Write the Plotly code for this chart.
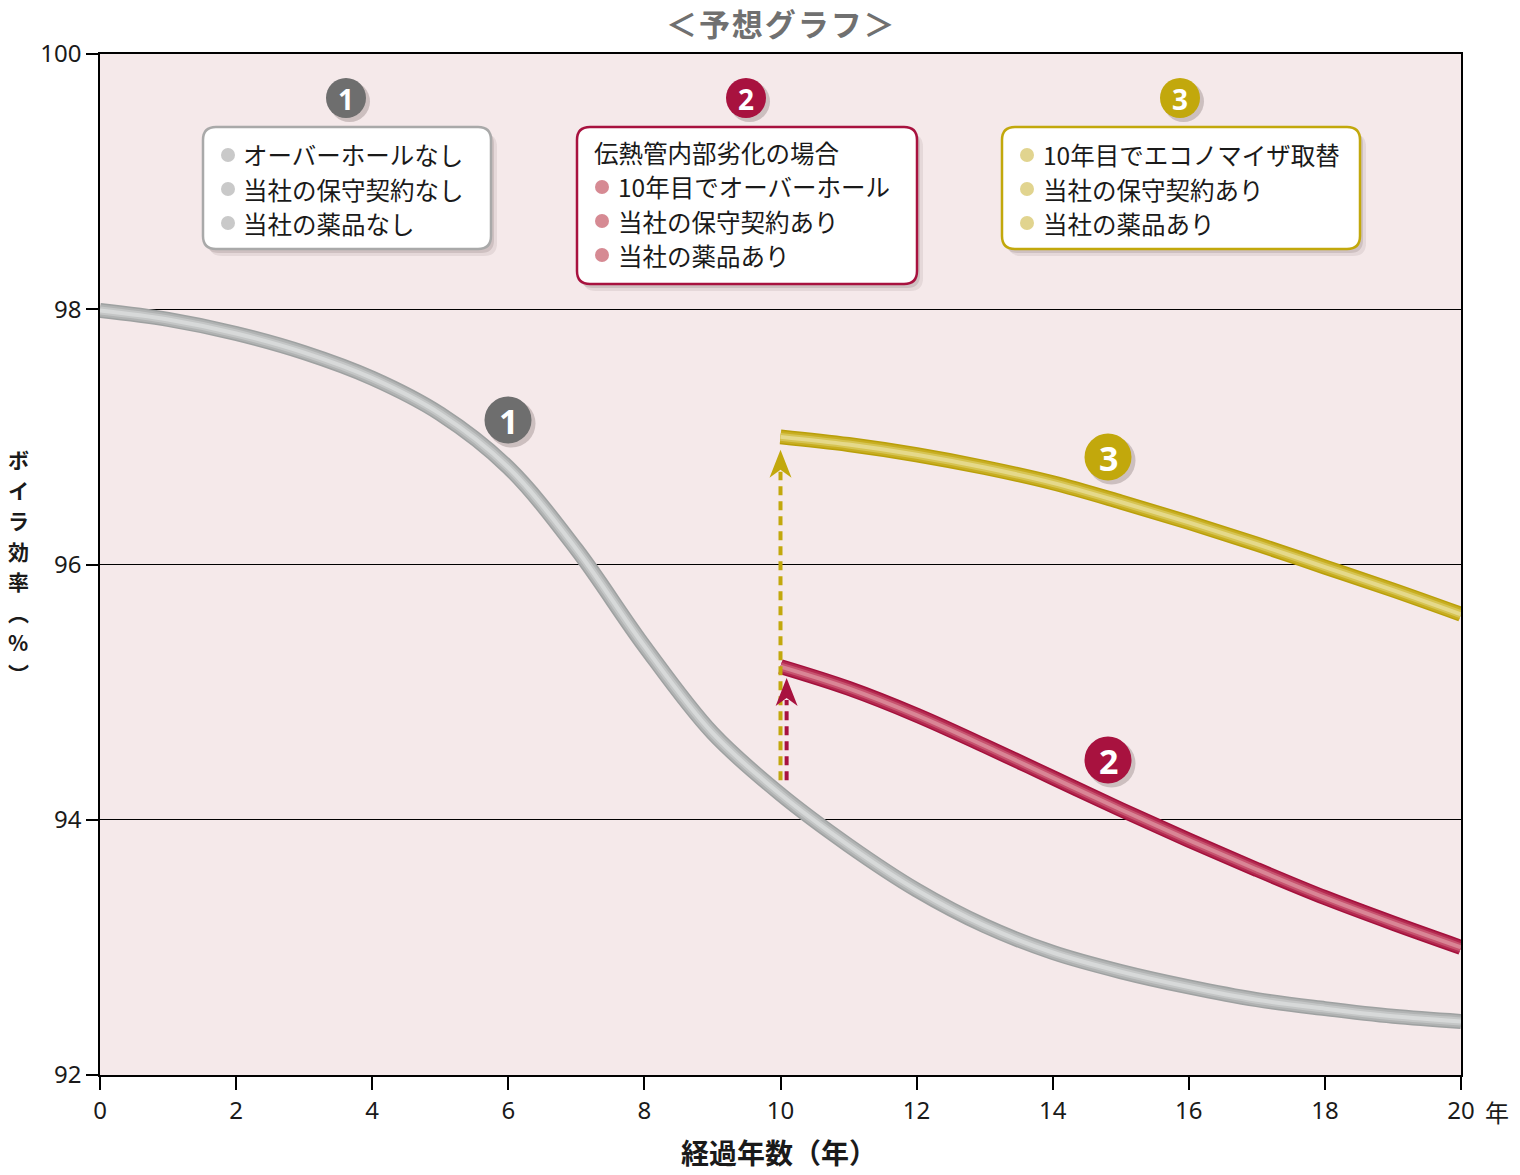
import plotly.graph_objects as go

# ---------------- data ----------------
years_gray = [0, 1, 2, 3, 4, 5, 6, 7, 8, 9, 10, 11, 12, 13, 14, 15, 16, 17, 18, 19, 20]
eff_gray = [97.99, 97.92, 97.81, 97.66, 97.46, 97.18, 96.76, 96.12, 95.36, 94.68, 94.20,
            93.80, 93.45, 93.17, 92.96, 92.81, 92.69, 92.59, 92.52, 92.46, 92.42]

years_after = [10, 11, 12, 13, 14, 15, 16, 17, 18, 19, 20]
eff_red = [95.20, 95.03, 94.82, 94.58, 94.33, 94.08, 93.84, 93.61, 93.39, 93.19, 93.00]
eff_yellow = [97.00, 96.94, 96.86, 96.76, 96.64, 96.49, 96.33, 96.16, 95.98, 95.80, 95.61]

x_ticks = [0, 2, 4, 6, 8, 10, 12, 14, 16, 18, 20]
x_ticktext = ["0", "2", "4", "6", "8", "10", "12", "14", "16", "18", "20"]
y_ticks = [92, 94, 96, 98, 100]
y_ticktext = ["92", "94", "96", "98", "100"]

# arrows: (x, start y, tip y)
arrow_yellow = (10.0, 94.31, 96.90)
arrow_red = (10.09, 94.31, 95.11)

legend1 = ["オーバーホールなし", "当社の保守契約なし", "当社の薬品なし"]
legend2_head = "伝熱管内部劣化の場合"
legend2 = ["10年目でオーバーホール", "当社の保守契約あり", "当社の薬品あり"]
legend3 = ["10年目でエコノマイザ取替", "当社の保守契約あり", "当社の薬品あり"]
ytitle_chars = ["ボ", "イ", "ラ", "効", "率", "︵", "%", "︶"]

# ---------------- geometry helpers (pixels -> paper) ----------------
W, H = 1520, 1175
L, R, T, B = 100, 1461, 54, 1075
PW, PH = R - L, B - T

def fx(px):
    return (px - L) / PW

def fy(py):
    return (B - py) / PH

def dy(py):
    return 100 - (py - T) / PH * 8

def rounded_rect(x0, y0, x1, y1, r):
    X0, X1 = fx(x0), fx(x1)
    Y0, Y1 = fy(y0), fy(y1)  # Y0 top
    rx, ry = r / PW, r / PH
    return (f"M{X0+rx},{Y0} L{X1-rx},{Y0} Q{X1},{Y0} {X1},{Y0-ry} "
            f"L{X1},{Y1+ry} Q{X1},{Y1} {X1-rx},{Y1} "
            f"L{X0+rx},{Y1} Q{X0},{Y1} {X0},{Y1+ry} "
            f"L{X0},{Y0-ry} Q{X0},{Y0} {X0+rx},{Y0} Z")

GRAY = "#6e6e6e"
RED = "#a8123f"
YEL = "#c2a80c"
FONT = "Noto Sans CJK JP"

fig = go.Figure()

def tube(x, y, colors):
    for col, w in zip(colors, [15, 12, 8, 4]):
        fig.add_trace(go.Scatter(x=x, y=y, mode="lines",
                                 line=dict(color=col, width=w, shape="spline", smoothing=1.0),
                                 hoverinfo="skip", showlegend=False))

tube(years_gray, eff_gray, ["#9ea1a1", "#b1b3b3", "#c4c6c6", "#d7d9d9"])
tube(years_after, eff_red, ["#a3113c", "#b42a51", "#c7536f", "#d98595"])
tube(years_after, eff_yellow, ["#b99f0a", "#c8ae22", "#d6c452", "#e5d98a"])

shapes = []
annotations = []

# ---------- arrows ----------
for (ax_, y0, tip), col in [(arrow_yellow, YEL), (arrow_red, RED)]:
    head_len_px, head_w_px, notch_px = 28, 22, 8
    tip_py = T + (100 - tip) / 8 * PH
    base_y = dy(tip_py + head_len_px - notch_px + 2)
    shapes.append(dict(type="line", xref="x", yref="y", x0=ax_, x1=ax_, y0=y0, y1=base_y,
                       line=dict(color=col, width=4, dash="9px,6px"), layer="above"))
    hx = head_w_px / 2 / PW * 20
    path = (f"M{ax_},{tip} L{ax_ + hx},{dy(tip_py + head_len_px)} "
            f"L{ax_},{dy(tip_py + head_len_px - notch_px)} L{ax_ - hx},{dy(tip_py + head_len_px)} Z")
    shapes.append(dict(type="path", xref="x", yref="y", path=path, fillcolor=col,
                       line=dict(width=0), layer="above"))

# ---------- legend boxes ----------
boxes = [((203, 127, 491, 249), "#a9a9a9"),
         ((577, 127, 917, 284), RED),
         ((1002, 127, 1360, 249), YEL)]
for (x0, y0, x1, y1), col in boxes:
    shapes.append(dict(type="path", xref="paper", yref="paper",
                       path=rounded_rect(x0 + 6, y0 + 7, x1 + 6, y1 + 7, 13),
                       fillcolor="rgba(90,70,70,0.10)", line=dict(width=0), layer="above"))
    shapes.append(dict(type="path", xref="paper", yref="paper",
                       path=rounded_rect(x0 + 3, y0 + 4, x1 + 3, y1 + 4, 13),
                       fillcolor="rgba(90,70,70,0.16)", line=dict(width=0), layer="above"))
    shapes.append(dict(type="path", xref="paper", yref="paper",
                       path=rounded_rect(x0, y0, x1, y1, 13),
                       fillcolor="white", line=dict(color=col, width=2.5), layer="above"))

def text_line(px, py, txt):
    annotations.append(dict(x=fx(px), y=fy(py), xref="paper", yref="paper", text=txt,
                            showarrow=False, xanchor="left", yanchor="middle",
                            font=dict(family=FONT, size=24.5, color="#1a1a1a")))

def bullet(px, py, col):
    shapes.append(dict(type="circle", xref="paper", yref="paper",
                       x0=fx(px - 7), x1=fx(px + 7), y0=fy(py + 7), y1=fy(py - 7),
                       fillcolor=col, line=dict(width=0), layer="above"))

for i, t in enumerate(legend1):
    py = 155 + 34 * i
    bullet(228, py, "#c9c9c9")
    text_line(241, py, t)

text_line(592, 153, legend2_head)
for i, t in enumerate(legend2):
    py = 187 + 34 * i
    bullet(602, py, "#d68a93")
    text_line(616, py, t)

for i, t in enumerate(legend3):
    py = 155 + 34 * i
    bullet(1027, py, "#e1d48f")
    text_line(1041, py, t)

# ---------- numbered badges ----------
badges = [  # (px, py, diameter, label, color, fontsize)
    (346, 98, 40, "1", GRAY, 28),
    (746, 98, 40, "2", RED, 28),
    (1180, 98, 40, "3", YEL, 28),
    (508, 420, 47, "1", GRAY, 34),
    (1108, 760, 47, "2", RED, 34),
    (1108, 457, 47, "3", YEL, 34),
]
for px, py, d, lab, col, fs in badges:
    r = d / 2
    shapes.append(dict(type="circle", xref="paper", yref="paper",
                       x0=fx(px - r + 3), x1=fx(px + r + 4), y0=fy(py + r + 4), y1=fy(py - r + 3),
                       fillcolor="rgba(60,40,40,0.22)", line=dict(width=0), layer="above"))
    shapes.append(dict(type="circle", xref="paper", yref="paper",
                       x0=fx(px - r), x1=fx(px + r), y0=fy(py + r), y1=fy(py - r),
                       fillcolor=col, line=dict(width=0), layer="above"))
    annotations.append(dict(x=fx(px), y=fy(py + 1), xref="paper", yref="paper", text=f"<b>{lab}</b>",
                            showarrow=False, xanchor="center", yanchor="middle",
                            font=dict(family="Noto Sans", size=fs, color="white")))

# ---------- titles ----------
hs = "\u200a"
title_txt = hs.join(list("＜予想グラフ＞"))
annotations.append(dict(x=fx(780), y=fy(23), xref="paper", yref="paper", text=f"<b>{title_txt}</b>",
                        showarrow=False, xanchor="center", yanchor="middle",
                        font=dict(family=FONT, size=31, color="#707070")))
annotations.append(dict(x=fx(779), y=fy(1152), xref="paper", yref="paper", text="<b>経過年数（年）</b>",
                        showarrow=False, xanchor="center", yanchor="middle",
                        font=dict(family=FONT, size=28, color="#1a1a1a")))
annotations.append(dict(x=fx(1497), y=fy(1111), xref="paper", yref="paper", text="年",
                        showarrow=False, xanchor="center", yanchor="middle",
                        font=dict(family=FONT, size=24, color="#1a1a1a")))
# vertical (upright) y-axis title, one character per annotation
pitch = 30.6
first_py = 566 - pitch * (len(ytitle_chars) - 1) / 2
for i, ch in enumerate(ytitle_chars):
    annotations.append(dict(x=fx(18), y=fy(first_py + i * pitch), xref="paper", yref="paper",
                            text=f"<b>{ch}</b>", showarrow=False, xanchor="center", yanchor="middle",
                            font=dict(family=FONT, size=21, color="#1a1a1a")))

fig.update_layout(
    width=W, height=H,
    margin=dict(l=L, r=W - R, t=T, b=H - B),
    paper_bgcolor="white",
    plot_bgcolor="#f5e9ea",
    showlegend=False,
    shapes=shapes,
    annotations=annotations,
    font=dict(family=FONT, color="#1a1a1a"),
)
fig.update_xaxes(range=[0, 20], tickvals=x_ticks, ticktext=x_ticktext, showgrid=False, zeroline=False,
                 showline=True, linecolor="black", linewidth=1.5, mirror=True,
                 ticks="outside", ticklen=13, tickwidth=1.5, tickcolor="black",
                 tickfont=dict(family="Noto Sans", size=24, color="#1a1a1a"))
fig.update_yaxes(range=[92, 100], tickvals=y_ticks, ticktext=y_ticktext, showgrid=True,
                 gridcolor="black", gridwidth=1.3, zeroline=False,
                 showline=True, linecolor="black", linewidth=1.5, mirror=True,
                 ticks="outside", ticklen=12, tickwidth=1.5, tickcolor="black",
                 tickfont=dict(family="Noto Sans", size=24, color="#1a1a1a"))

fig.write_html("out.html", config={"displayModeBar": False},
               post_script="document.body.style.margin='0px';")
